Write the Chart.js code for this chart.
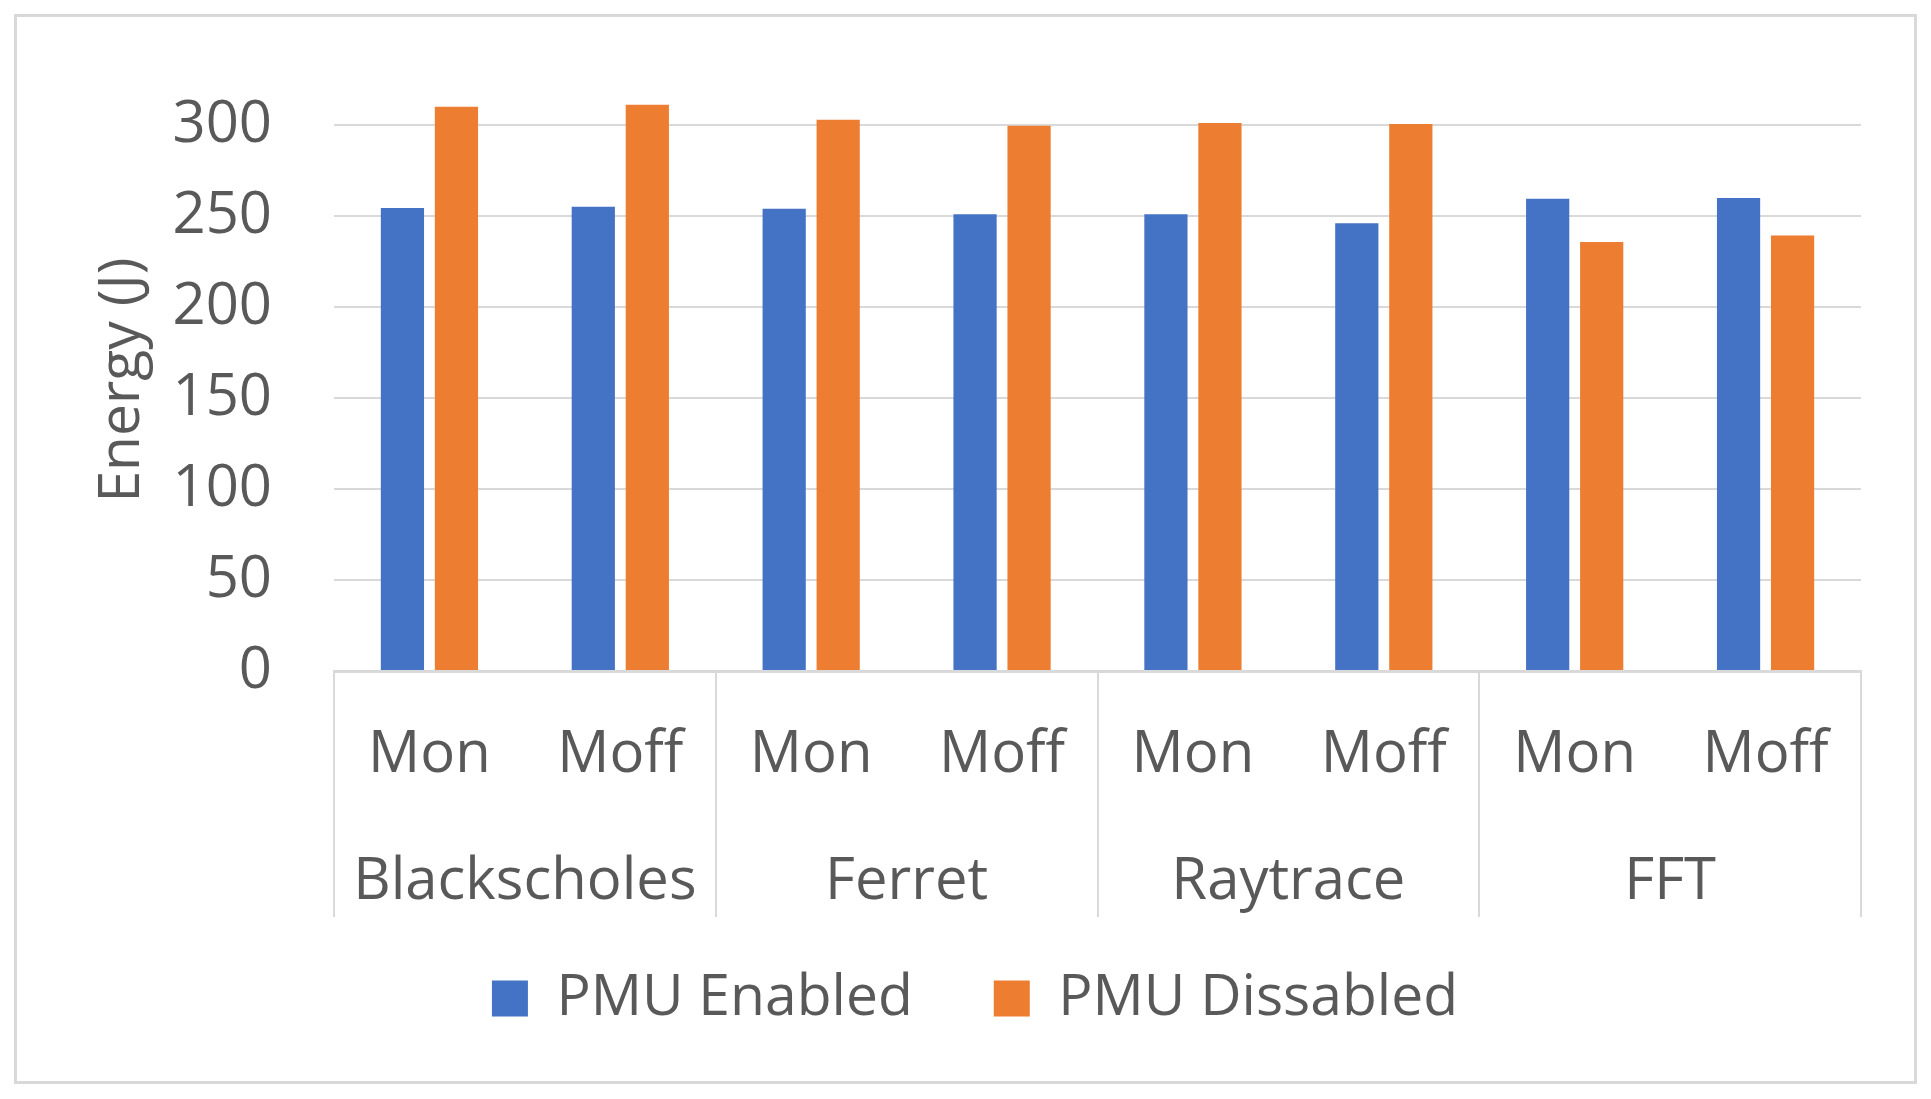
<!DOCTYPE html>
<html lang="en">
<head>
    <meta charset="UTF-8">
    <script src="https://cdn.jsdelivr.net/npm/chart.js"></script>
    <title>Energy</title>
    <style>
        body { margin: 0; background: #fff; }
        .moldura {
            position: absolute; left: 14px; top: 14px;
            width: 1897px; height: 1064px;
            border: 3px solid #d9d9d9;
        }
    </style>
</head>
<body>
    <div class="moldura">
        <canvas id="grafico" width="1897" height="1064"></canvas>
    </div>

<script>
    // dados
    const categorias = ['Mon', 'Moff', 'Mon', 'Moff', 'Mon', 'Moff', 'Mon', 'Moff'];
    const grupos = ['Blackscholes', 'Ferret', 'Raytrace', 'FFT'];
    const pmuEnabled = [254.6, 255.2, 254.1, 251.2, 251.2, 246.2, 259.6, 260.1];
    const pmuDissabled = [310.3, 311.4, 303.1, 299.8, 301.3, 300.8, 235.9, 239.4];
    const yTicks = [0, 50, 100, 150, 200, 250, 300];

    const cinza = '#595959';
    const linha = '#d9d9d9';
    const fonte = 'Open Sans';

    // linhas verticais separando os grupos
    const separadores = {
        id: 'separadores',
        afterLayout(chart) {
            // sobe a legenda um pouco (fica mais perto dos nomes dos grupos)
            chart.legend.top -= 42;
            chart.legend.bottom -= 42;
        },
        afterDraw(chart) {
            const x = chart.scales.x;
            const ctx = chart.ctx;
            ctx.save();
            ctx.strokeStyle = linha;
            ctx.lineWidth = 2;
            for (let i = 0; i <= grupos.length; i++) {
                const px = Math.round(x.getPixelForValue(i * 2 - 0.5));
                ctx.beginPath();
                ctx.moveTo(px, x.top);
                ctx.lineTo(px, 900);
                ctx.stroke();
            }
            ctx.restore();
        }
    };

    const ctx = document.getElementById('grafico').getContext('2d');
    new Chart(ctx, {
        type: 'bar',
        data: {
            labels: categorias,
            datasets: [
                { label: 'PMU Enabled', data: pmuEnabled, backgroundColor: '#4472C4' },
                { label: 'PMU Dissabled', data: pmuDissabled, backgroundColor: '#ED7D31' }
            ]
        },
        options: {
            responsive: false,
            animation: false,
            categoryPercentage: 0.566,
            barPercentage: 0.8,
            layout: { padding: { top: 72, right: 53, left: 72, bottom: 2 } },
            plugins: {
                tooltip: { enabled: false },
                legend: {
                    position: 'bottom',
                    labels: {
                        boxWidth: 36, boxHeight: 36, padding: 81,
                        color: cinza, font: { family: fonte, size: 57 }
                    }
                }
            },
            scales: {
                y: {
                    min: 0, max: 320,
                    afterBuildTicks: (s) => { s.ticks = yTicks.map(v => ({ value: v })); },
                    afterFit: (s) => { s.width = 245; s.paddingTop = 0; s.paddingBottom = 0; },
                    grid: { color: linha, lineWidth: 2, drawTicks: false },
                    border: { display: false },
                    ticks: { padding: 62, color: cinza, font: { family: fonte, size: 58 } },
                    title: {
                        display: true, text: 'Energy (J)', color: cinza,
                        padding: 0, font: { family: fonte, size: 57 }
                    }
                },
                x: {
                    afterFit: (s) => { s.height = 130; },
                    grid: { display: false, drawTicks: false },
                    border: { display: true, color: linha, width: 3 },
                    ticks: { padding: 50, color: cinza, maxRotation: 0, autoSkip: false, font: { family: fonte, size: 58 } }
                },
                x2: {
                    type: 'category',
                    labels: grupos,
                    position: 'bottom',
                    afterFit: (s) => { s.height = 130; },
                    grid: { display: false, drawTicks: false },
                    border: { display: false },
                    ticks: { padding: 47, color: cinza, maxRotation: 0, autoSkip: false, font: { family: fonte, size: 58 } }
                }
            }
        },
        plugins: [separadores]
    });
</script>
</body>
</html>
